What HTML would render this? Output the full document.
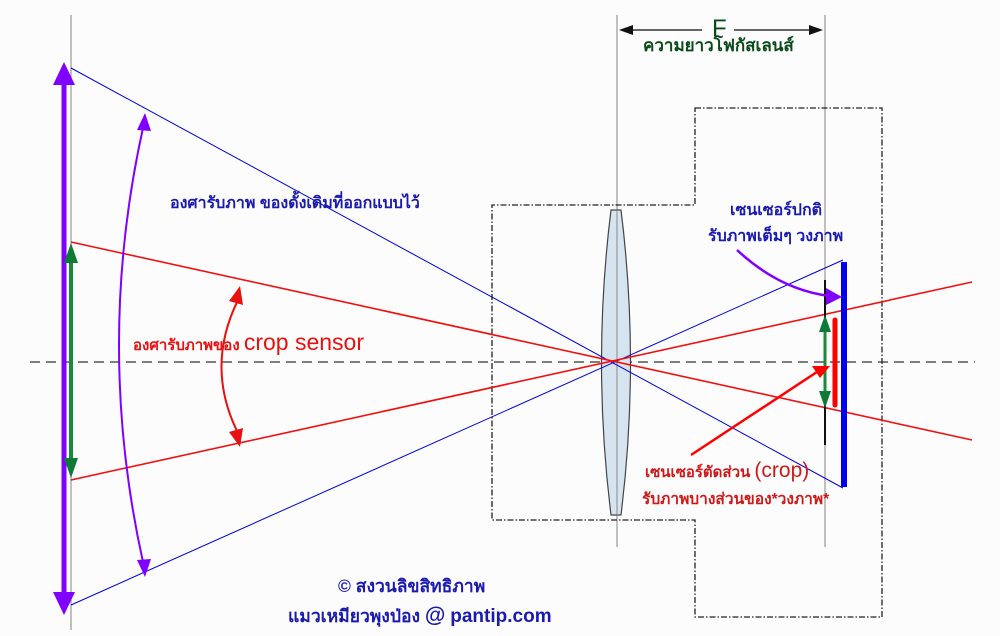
<!DOCTYPE html>
<html><head><meta charset="utf-8"><style>
html,body{margin:0;padding:0;background:#fbfcfb;}
svg{display:block;}
text{font-family:"Liberation Sans","Noto Sans CJK SC",sans-serif;font-weight:bold;}
</style></head><body>
<svg width="1000" height="636" viewBox="0 0 1000 636" xmlns="http://www.w3.org/2000/svg">
<rect width="1000" height="636" fill="#fbfcfb"/>
<line x1="71" y1="15" x2="71" y2="630" stroke="#999" stroke-width="1.2"/>
<line x1="617" y1="15" x2="617" y2="547" stroke="#999" stroke-width="1.2"/>
<line x1="825" y1="15" x2="825" y2="547" stroke="#999" stroke-width="1.2"/>
<line x1="630" y1="30" x2="812" y2="30" stroke="#333" stroke-width="1.5"/>
<path d="M619,30 L633,25 L633,35z" fill="#111"/>
<path d="M823,30 L809,25 L809,35z" fill="#111"/>
<rect x="702" y="18" width="32" height="22" fill="#fbfcfb"/>
<text x="712" y="36" font-size="24" fill="#0a4a1a" style="font-weight:normal">F</text>
<text x="643" y="51" font-size="17" fill="#0a4a1a">ความยาวโฟกัสเลนส์</text>
<path d="M695,108 L882,108 L882,617 L695,617 L695,520 L492,520 L492,205 L695,205 Z" fill="none" stroke="#222" stroke-width="1.3" stroke-dasharray="6,2,1.5,2"/>
<line x1="30" y1="362" x2="975" y2="362" stroke="#333" stroke-width="1.2" stroke-dasharray="10,6"/>
<path d="M611,210 L621,210 Q640,362 621,515 L611,515 Q592,362 611,210Z" fill="#d6e4ef" stroke="#444" stroke-width="1.2"/>
<line x1="617" y1="210" x2="617" y2="515" stroke="#888" stroke-width="1"/>
<line x1="71" y1="68" x2="843" y2="488" stroke="#0000dd" stroke-width="1"/>
<line x1="71" y1="605" x2="843" y2="260" stroke="#0000dd" stroke-width="1"/>
<line x1="71" y1="242" x2="972" y2="440" stroke="#f01010" stroke-width="1.6"/>
<line x1="71" y1="480" x2="972" y2="282" stroke="#f01010" stroke-width="1.6"/>
<line x1="64" y1="82" x2="64" y2="595" stroke="#8000ff" stroke-width="5"/>
<path d="M64,62 L53,85 L75,85z" fill="#8000ff"/>
<path d="M64,615 L53,592 L75,592z" fill="#8000ff"/>
<line x1="71" y1="258" x2="71" y2="463" stroke="#1a8a3a" stroke-width="4"/>
<path d="M71,243 L64,263 L78,263z" fill="#0d7a36"/>
<path d="M71,478 L64,458 L78,458z" fill="#0d7a36"/>
<path d="M143,128 Q95,345 143,562" fill="none" stroke="#8000ff" stroke-width="2"/>
<path d="M145,113 L137,130 L151,131z" fill="#8000ff"/>
<path d="M145,577 L137,560 L151,559z" fill="#8000ff"/>
<path d="M238,300 Q205,367 238,433" fill="none" stroke="#e81010" stroke-width="2"/>
<path d="M240,286 L229,301 L243,305z" fill="#e81010"/>
<path d="M240,447 L229,432 L243,428z" fill="#e81010"/>
<line x1="825" y1="280" x2="825" y2="445" stroke="#111" stroke-width="2"/>
<line x1="844" y1="262" x2="844" y2="487" stroke="#0000ee" stroke-width="6"/>
<line x1="835" y1="320" x2="835" y2="405" stroke="#f00" stroke-width="5" stroke-linecap="round"/>
<line x1="825" y1="330" x2="825" y2="394" stroke="#1a8a3a" stroke-width="3"/>
<path d="M825,315 L819,332 L831,332z" fill="#0d7a36"/>
<path d="M825,408 L819,391 L831,391z" fill="#0d7a36"/>
<path d="M737,250 Q780,290 830,296" fill="none" stroke="#8000ff" stroke-width="2.5"/>
<path d="M842,297 L826,288 L826,305z" fill="#8000ff"/>
<line x1="691" y1="455" x2="820" y2="370" stroke="#f00" stroke-width="2.5"/>
<path d="M830,366 L812,366 L820,378z" fill="#f00"/>
<text x="170" y="208" font-size="16" fill="#1a1ab0">องศารับภาพ ของดั้งเดิมที่ออกแบบไว้</text>
<text x="133" y="350" font-size="15" fill="#e81010">องศารับภาพของ <tspan font-size="23" style="font-weight:normal">crop sensor</tspan></text>
<text x="730" y="215" font-size="16" fill="#1a1ab0">เซนเซอร์ปกติ</text>
<text x="708" y="241" font-size="16" fill="#1a1ab0">รับภาพเต็มๆ วงภาพ</text>
<text x="645" y="477" font-size="15" fill="#d01818">เซนเซอร์ตัดส่วน <tspan font-size="21" style="font-weight:normal">(crop)</tspan></text>
<text x="642" y="504" font-size="15.5" fill="#d01818">รับภาพบางส่วนของ*วงภาพ*</text>
<text x="338" y="592" font-size="17.5" fill="#1a1ab0">© สงวนลิขสิทธิภาพ</text>
<text x="288" y="622" font-size="17.5" fill="#1a1ab0">แมวเหมียวพุงป่อง <tspan font-size="21">@</tspan> <tspan font-size="19">pantip.com</tspan></text>
</svg>
</body></html>
